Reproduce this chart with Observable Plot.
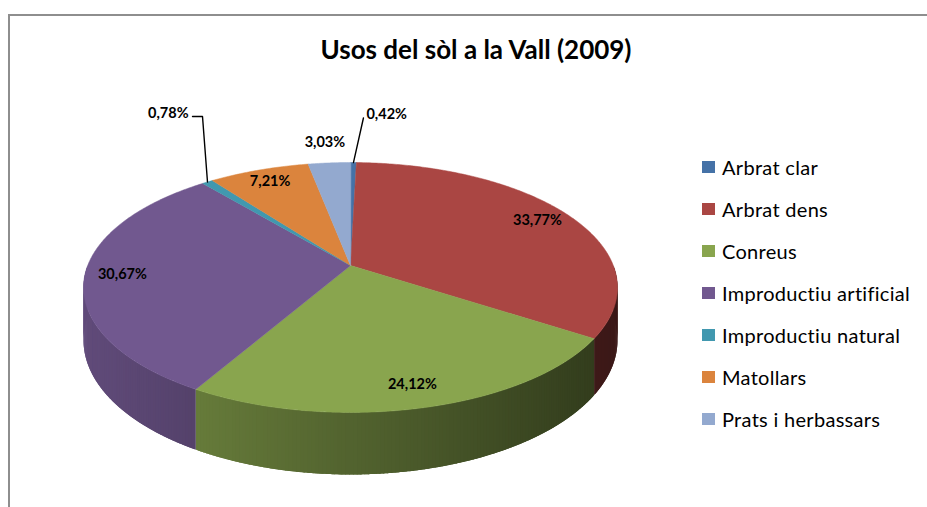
<!DOCTYPE html>
<html><head><meta charset="utf-8">
<script src="https://cdn.jsdelivr.net/npm/d3@7"></script>
<script src="https://cdn.jsdelivr.net/npm/@observablehq/plot@0.6"></script>
<style>
body{margin:0;background:#fff;font-family:Lato,"Open Sans",sans-serif;}
#wrap{position:relative;width:927px;height:507px;overflow:hidden;background:#fff;}
#frame{position:absolute;left:8px;top:14px;width:2000px;height:2000px;border-left:2px solid #8e8e8e;border-top:2px solid #8e8e8e;pointer-events:none;}
#title{position:relative;height:80px;width:927px;}
#title span{position:absolute;left:0;width:952px;top:34px;text-align:center;font-weight:bold;font-size:26px;line-height:30px;color:#000;}
#chart{position:relative;}
#legend{position:absolute;left:702px;top:146px;}
.item{display:flex;align-items:center;height:42px;font-size:20px;letter-spacing:0.3px;color:#000;white-space:nowrap;}
.sw{width:13px;height:12px;margin-right:7px;flex:none;}
</style>
</head><body>
<div id="wrap">
  <div id="frame"></div>
  <div id="title"><span>Usos del sòl a la Vall (2009)</span></div>
  <div id="chart"></div>
  <div id="legend"></div>
</div>
<script>
// ---- data ----
const categories = ["Arbrat clar","Arbrat dens","Conreus","Improductiu artificial","Improductiu natural","Matollars","Prats i herbassars"];
const shares = [0.42, 33.77, 24.12, 30.67, 0.78, 7.21, 3.03];
const labels = ["0,42%","33,77%","24,12%","30,67%","0,78%","7,21%","3,03%"];
// ---- palette ----
const colors = ["#4572A7","#AA4643","#89A54E","#71588F","#4198AF","#DB843D","#93A9CF"];

// ---- 3D perspective pie geometry ----
const P = 0.176;   // perspective strength
const H = 0.422;   // thickness
function proj(r, t, d = 0) {
  const u = r * Math.sin(t), v = r * Math.cos(t), w = 1 + P * v;
  return [u / w, (-v + d) / w];
}
function shade(c, f) {
  const k = d3.rgb(c);
  return d3.rgb(k.r * f, k.g * f, k.b * f).formatHex();
}
const arcs = d3.pie().sort(null).value(d => d)(shares);
const step = 0.012;

// top faces
const topPts = [];
arcs.forEach((a, i) => {
  topPts.push({id: "t" + i, x: 0, y: 0, fill: colors[i]});
  const n = Math.max(2, Math.ceil((a.endAngle - a.startAngle) / 0.01));
  for (let k = 0; k <= n; k++) {
    const t = a.startAngle + (a.endAngle - a.startAngle) * k / n;
    const [x, y] = proj(1, t);
    topPts.push({id: "t" + i, x, y, fill: colors[i]});
  }
});

// side strips (front half only), slightly overlapping to avoid seams
const strips = [];
arcs.forEach((a, i) => {
  const s = Math.max(a.startAngle, Math.PI / 2), e = Math.min(a.endAngle, 3 * Math.PI / 2);
  if (e <= s) return;
  const n = Math.max(1, Math.ceil((e - s) / step));
  for (let k = 0; k < n; k++) {
    const t0 = s + (e - s) * k / n, t1 = s + (e - s) * (k + 1) / n;
    const a0 = k === 0 ? t0 : t0 - step * 0.6;
    const a1 = k === n - 1 ? t1 : t1 + step * 0.6;
    const xm = proj(1, (t0 + t1) / 2)[0];
    const f = Math.max(0.3, Math.min(0.9, 0.60 - 0.25 * xm));
    const col = shade(colors[i], f);
    const id = "s" + i + "_" + k;
    const order = Math.cos((t0 + t1) / 2);
    const pts = [];
    const m = 4;
    for (let j = 0; j <= m; j++) pts.push([a0 + (a1 - a0) * j / m, 0]);
    for (let j = m; j >= 0; j--) pts.push([a0 + (a1 - a0) * j / m, H]);
    pts.forEach(([t, d]) => {
      const [x, y] = proj(1, t, d);
      strips.push({id, x, y, fill: col, order});
    });
  }
});
strips.sort((p, q) => q.order - p.order);

// labels
const textPts = [], leaders = [];
const Yrow = -1.23;
arcs.forEach((a, i) => {
  const mid = (a.startAngle + a.endAngle) / 2;
  const pct = shares[i];
  if (pct >= 5) {
    const [x, y] = proj(0.86, mid);
    textPts.push({x, y, text: labels[i], anchor: "middle"});
  } else if (pct >= 1) {
    const [x, y] = proj(1.25, mid);
    textPts.push({x, y, text: labels[i], anchor: "middle"});
  } else {
    const [rx, ry] = proj(1, mid);
    const right = Math.sin(mid) >= 0;
    leaders.push({id: i, x: rx, y: ry});
    if (right) {
      const ex = rx + 0.038;
      leaders.push({id: i, x: ex, y: Yrow + 0.012});
      textPts.push({x: ex, y: Yrow + 0.012, text: labels[i], anchor: "start"});
    } else {
      const ex = rx - 0.019;
      leaders.push({id: i, x: ex, y: Yrow});
      leaders.push({id: i, x: rx - 0.057, y: Yrow});
      textPts.push({x: rx - 0.057, y: Yrow, text: labels[i], anchor: "end"});
    }
  }
});

const lab = {x: "x", y: "y", text: "text", fill: "#000", fontWeight: "bold", fontSize: 14.5, fontFamily: "Lato"};
const plot = Plot.plot({
  width: 927, height: 427, margin: 0,
  x: {domain: [-1, 1], range: [87.2, 612.8], axis: null},
  y: {domain: [-1, 1], range: [63.9, 306.1], axis: null},
  color: {type: "identity"},
  marks: [
    Plot.line(strips, {x: "x", y: "y", z: "id", fill: "fill", stroke: "none", curve: "linear-closed"}),
    Plot.line(topPts, {x: "x", y: "y", z: "id", fill: "fill", stroke: "fill", strokeWidth: 0.5, curve: "linear-closed"}),
    Plot.line(leaders, {x: "x", y: "y", z: "id", stroke: "#000", strokeWidth: 1.4}),
    Plot.text(textPts.filter(d => d.anchor === "middle"), {...lab, textAnchor: "middle"}),
    Plot.text(textPts.filter(d => d.anchor === "start"), {...lab, textAnchor: "start", dx: 3, dy: -4}),
    Plot.text(textPts.filter(d => d.anchor === "end"), {...lab, textAnchor: "end", dx: -4, dy: -3.5})
  ]
});
document.getElementById("chart").appendChild(plot);

const leg = document.getElementById("legend");
categories.forEach((c, i) => {
  const it = document.createElement("div");
  it.className = "item";
  const sw = document.createElement("span");
  sw.className = "sw";
  sw.style.background = colors[i];
  const tx = document.createElement("span");
  tx.textContent = c;
  it.appendChild(sw); it.appendChild(tx);
  leg.appendChild(it);
});
</script>
</body></html>
